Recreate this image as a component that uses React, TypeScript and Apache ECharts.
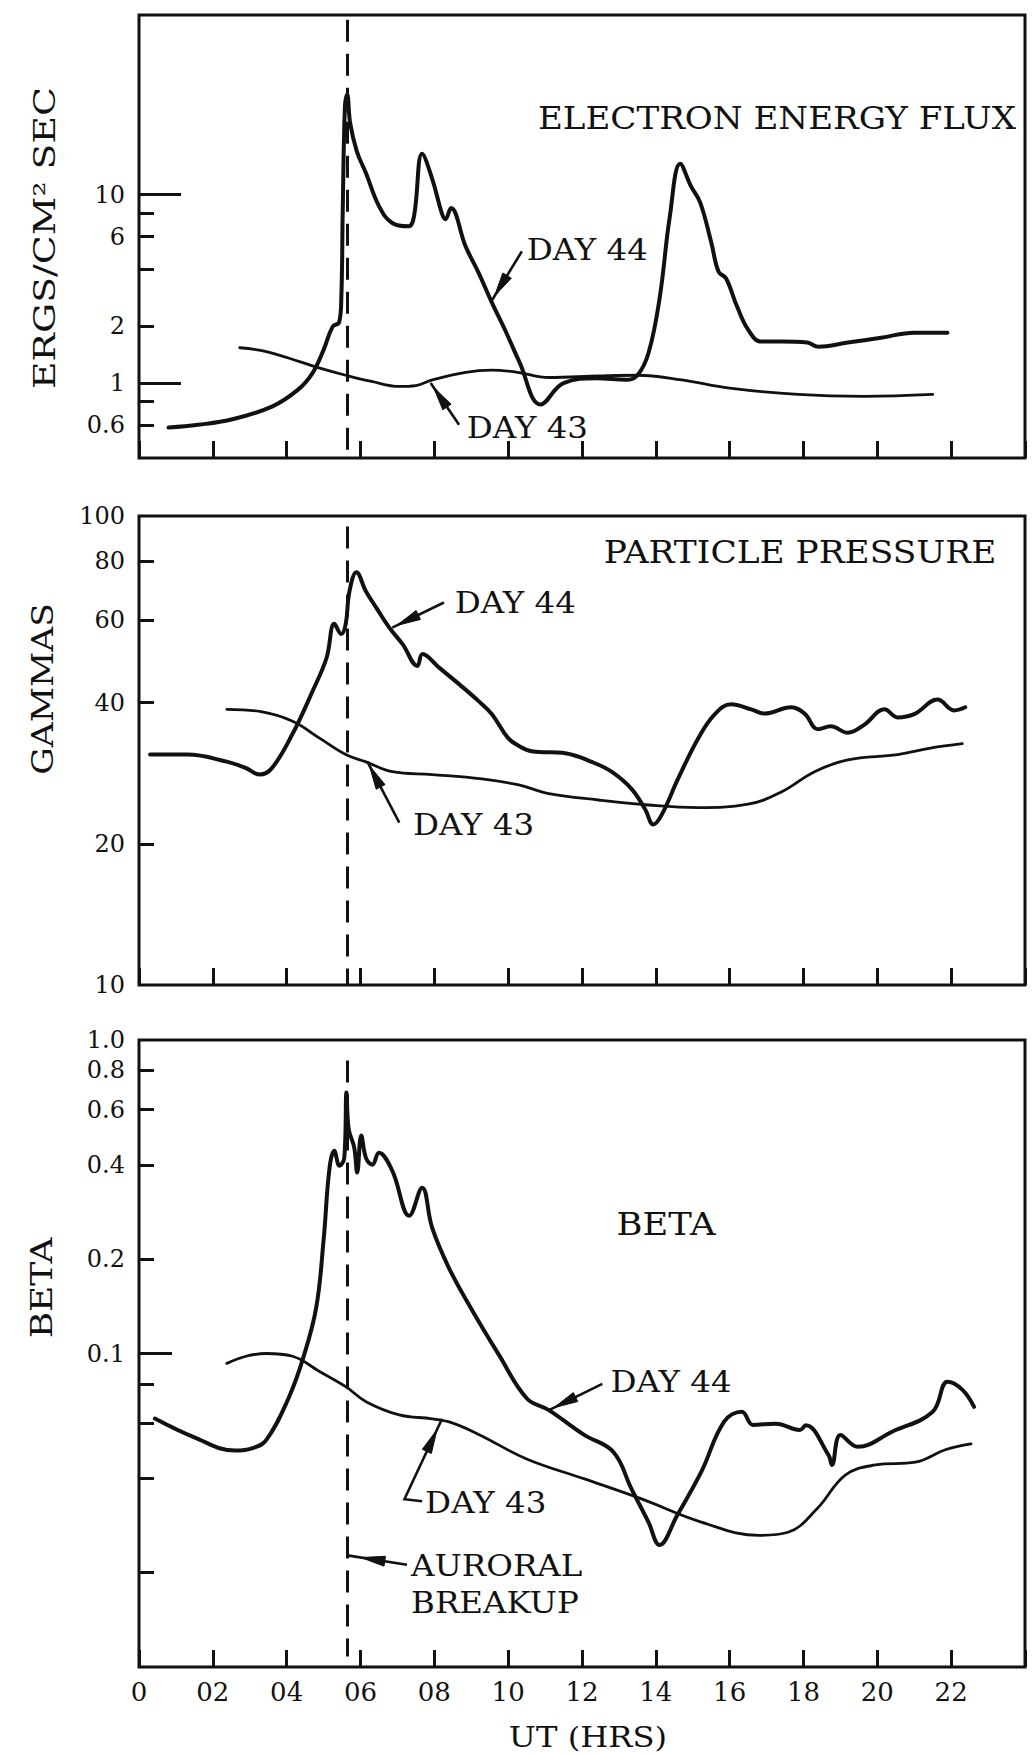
import React, { useEffect, useRef } from 'react';
import * as echarts from 'echarts';

// ---------- data (UT hours, value) ----------
const fluxDay44: [number, number][] = [
  [0.8, 0.58], [1.6, 0.6], [2.5, 0.64], [3.6, 0.75], [4.3, 0.92], [4.7, 1.13], [5.0, 1.5],
  [5.25, 2.0], [5.42, 2.1], [5.48, 2.8], [5.52, 8.5], [5.58, 30], [5.64, 34], [5.72, 24],
  [5.9, 17], [6.15, 13], [6.5, 8.7], [6.85, 7.1], [7.3, 6.8], [7.45, 7.7], [7.67, 16.5],
  [7.95, 12], [8.2, 8.0], [8.3, 7.4], [8.45, 8.5], [8.85, 5.3], [9.2, 3.85], [9.55, 2.7],
  [9.95, 1.85], [10.3, 1.3], [10.88, 0.77], [11.5, 1.0], [12.4, 1.06], [13.2, 1.04],
  [13.5, 1.1], [13.8, 1.44], [14.1, 2.8], [14.38, 7.7], [14.66, 14.6], [14.95, 11.1],
  [15.2, 9.1], [15.5, 5.6], [15.7, 3.9], [15.9, 3.6], [16.2, 2.55], [16.5, 1.92],
  [16.85, 1.66], [17.4, 1.66], [18.1, 1.64], [18.4, 1.56], [19.2, 1.64], [20.1, 1.74],
  [21.0, 1.85], [21.9, 1.85],
];
const fluxDay43: [number, number][] = [
  [2.73, 1.54], [3.45, 1.47], [4.35, 1.3], [4.9, 1.2], [5.6, 1.1], [6.3, 1.02], [7.05, 0.96],
  [7.5, 0.97], [7.95, 1.04], [8.85, 1.14], [9.55, 1.17], [10.25, 1.14], [11.1, 1.07],
  [12.45, 1.09], [13.5, 1.1], [14.7, 1.04], [16.0, 0.94], [17.85, 0.87], [19.65, 0.85],
  [21.5, 0.87],
];
const pressureDay44: [number, number][] = [
  [0.3, 31], [1.3, 31], [2.4, 29.9], [2.9, 29], [3.27, 28.1], [3.6, 29], [4.15, 34.2],
  [4.7, 42.3], [5.08, 49.8], [5.29, 58.9], [5.48, 56], [5.6, 58.9], [5.7, 69], [5.89, 75.9],
  [6.15, 69], [6.43, 63.7], [6.78, 57.8], [7.14, 53.3], [7.54, 47.9], [7.68, 50.8],
  [8.13, 47.5], [8.67, 43.8], [9.2, 40.3], [9.56, 37.8], [10.0, 33.6], [10.3, 32.3],
  [10.64, 31.5], [11.55, 31.2], [12.26, 29.9], [12.8, 28.5], [13.34, 26.2], [13.71, 23.7],
  [13.93, 22.0], [14.15, 23.0], [14.6, 27.5], [15.15, 33.6], [15.6, 37.8], [16.04, 39.7],
  [16.58, 38.7], [16.95, 37.9], [17.66, 39.1], [18.03, 37.9], [18.39, 35.1], [18.74, 35.6],
  [19.2, 34.5], [19.65, 35.9], [20.19, 38.7], [20.55, 37.2], [21.0, 37.8], [21.63, 40.6],
  [22.08, 38.5], [22.38, 39.1],
];
const pressureDay43: [number, number][] = [
  [2.38, 38.7], [3.27, 38.3], [4.16, 36.5], [4.89, 33.6], [5.6, 31.0], [6.15, 29.9],
  [6.86, 28.5], [7.94, 28.1], [9.29, 27.5], [10.29, 26.7], [11.1, 25.6], [12.45, 24.8],
  [13.8, 24.2], [15.15, 23.9], [16.5, 24.3], [17.4, 25.8], [18.3, 28.5], [19.2, 30.2],
  [20.55, 31], [21.44, 32.0], [22.3, 32.7],
];
const betaDay44: [number, number][] = [
  [0.43, 0.062], [1.5, 0.054], [2.6, 0.049], [3.1, 0.05], [3.45, 0.053], [4.05, 0.072],
  [4.45, 0.097], [4.8, 0.14], [5.0, 0.23], [5.16, 0.39], [5.29, 0.443], [5.43, 0.397],
  [5.56, 0.42], [5.62, 0.68], [5.68, 0.52], [5.83, 0.454], [5.91, 0.378], [6.02, 0.496],
  [6.15, 0.42], [6.32, 0.4], [6.5, 0.437], [6.86, 0.383], [7.32, 0.275], [7.67, 0.338],
  [7.94, 0.252], [8.4, 0.187], [9.0, 0.139], [9.75, 0.099], [10.5, 0.072], [11.1, 0.066],
  [12.06, 0.055], [12.85, 0.0485], [13.34, 0.037], [13.8, 0.029], [14.1, 0.0245],
  [14.58, 0.0305], [15.23, 0.0419], [15.85, 0.0606], [16.33, 0.0652], [16.63, 0.0592],
  [17.25, 0.0597], [17.9, 0.057], [18.06, 0.059], [18.68, 0.0474], [18.77, 0.0441],
  [19.0, 0.055], [19.47, 0.0504], [20.4, 0.0563], [21.5, 0.0652], [21.9, 0.0813],
  [22.3, 0.0767], [22.62, 0.0676],
];
const betaDay43: [number, number][] = [
  [2.38, 0.093], [2.9, 0.098], [3.44, 0.1], [4.16, 0.098], [4.89, 0.0876], [5.6, 0.0784],
  [6.15, 0.0702], [7.05, 0.0637], [7.94, 0.0619], [8.5, 0.06], [9.23, 0.055], [10.5, 0.0461],
  [12.07, 0.0398], [13.63, 0.0343], [15.23, 0.029], [16.8, 0.0263], [17.58, 0.0269],
  [18.36, 0.0319], [19.14, 0.041], [19.95, 0.0441], [21.03, 0.045], [21.84, 0.0493],
  [22.54, 0.0515],
];

// ---------- tick values ----------
const fluxLabels = [0.6, 1, 2, 6, 10];
const fluxShortTicks = [0.6, 0.8, 2, 4, 6, 8];
const fluxLongTicks = [1, 10];
const pressureLabels = [10, 20, 40, 60, 80, 100];
const pressureShortTicks = [20, 40, 60, 80];
const betaLabels = [0.1, 0.2, 0.4, 0.6, 0.8, 1];
const betaShortTicks = [0.02, 0.04, 0.06, 0.08, 0.2, 0.4, 0.6, 0.8];
const betaLongTicks = [0.1];
const breakupHour = 5.64;

// ---------- annotations (data coordinates) ----------
type Note = { labels: [string, number, number][]; path: [number, number][]; tipOffset?: number };
const fluxNotes: Note[] = [
  { labels: [['DAY 44', 10.5, 5.1]], path: [[10.37, 5.0], [9.56, 2.75]] },
  { labels: [['DAY 43', 8.88, 0.58]], path: [[8.67, 0.6], [7.9, 1.0]] },
];
const pressureNotes: Note[] = [
  { labels: [['DAY 44', 8.55, 65.4]], path: [[8.26, 65.4], [6.86, 57.8]] },
  { labels: [['DAY 43', 7.42, 22.0]], path: [[7.05, 22.2], [6.18, 30.0]] },
];
const betaNotes: Note[] = [
  { labels: [['DAY 44', 12.77, 0.0813]], path: [[12.55, 0.08], [11.12, 0.0661]] },
  { labels: [['DAY 43', 7.75, 0.0335]], path: [[7.67, 0.0338], [7.19, 0.0343], [8.21, 0.0619]], tipOffset: 12 },
  { labels: [['AURORAL', 7.37, 0.0211], ['BREAKUP', 7.37, 0.016]], path: [[7.26, 0.0212], [breakupHour, 0.0227]], tipOffset: 14 },
];

const FONT = "'DejaVu Serif', 'Liberation Serif', serif";
const INK = '#111111';

const grids = [
  { left: 139, top: 15, width: 886, height: 443 },
  { left: 139, top: 516, width: 886, height: 469 },
  { left: 139, top: 1040, width: 886, height: 627 },
];

function yAxes(gridIndex: number, min: number, max: number, labels: number[], shortTicks: number[],
  longTicks: number[], longLen: number, fmt: (v: number) => string) {
  return [
    {
      type: 'log', gridIndex, min, max, logBase: 10, position: 'left', offset: 0,
      axisLine: { show: false }, splitLine: { show: false }, minorTick: { show: false },
      axisTick: { show: true, inside: true, length: 15, customValues: shortTicks, lineStyle: { color: INK, width: 3 } },
      axisLabel: { show: true, customValues: labels, formatter: fmt, fontFamily: FONT, fontSize: 24, color: INK, margin: 14 },
    },
    {
      type: 'log', gridIndex, min, max, logBase: 10, position: 'left', offset: 0,
      axisLine: { show: false }, splitLine: { show: false }, minorTick: { show: false },
      axisTick: { show: longTicks.length > 0, inside: true, length: longLen, customValues: longTicks.length ? longTicks : [min], lineStyle: { color: INK, width: 3 } },
      axisLabel: { show: false },
    },
  ];
}

const fmtHour = (v: number) => (v === 0 ? '0' : v >= 24 ? '' : v < 10 ? '0' + v : String(v));

function lineSeries(i: number, data: [number, number][], width: number, dash?: [number, number]) {
  const s: any = {
    type: 'line', xAxisIndex: i, yAxisIndex: 2 * i, data, smooth: 0.4,
    showSymbol: false, symbol: 'none', lineStyle: { color: INK, width, cap: 'round', join: 'round' }, z: 3,
  };
  if (dash) {
    s.markLine = {
      silent: true, symbol: ['none', 'none'], label: { show: false },
      lineStyle: { color: INK, width: 3, type: [22, 12] },
      data: [[{ coord: [breakupHour, dash[0]] }, { coord: [breakupHour, dash[1]] }]],
    };
  }
  return s;
}

function noteSeries(i: number, notes: Note[]) {
  return {
    type: 'custom', xAxisIndex: i, yAxisIndex: 2 * i, clip: false, silent: true, z: 6,
    data: notes.map((n) => n.path[n.path.length - 1]),
    renderItem: (params: any, api: any) => {
      const note = notes[params.dataIndex];
      const pts = note.path.map((p) => api.coord(p));
      const children: any[] = [];
      children.push({ type: 'polyline', shape: { points: pts }, style: { stroke: INK, lineWidth: 2.6, fill: 'none' } });
      const tip = pts[pts.length - 1];
      const prev = pts[pts.length - 2];
      const dx = prev[0] - tip[0];
      const dy = prev[1] - tip[1];
      const len = Math.hypot(dx, dy) || 1;
      const ux = dx / len;
      const uy = dy / len;
      const off = note.tipOffset ?? 5;
      const L = 24;
      const w = 5;
      const a = [tip[0] + ux * off, tip[1] + uy * off];
      const b = [tip[0] + ux * (off + L), tip[1] + uy * (off + L)];
      children.push({
        type: 'polygon',
        shape: { points: [a, [b[0] - uy * w, b[1] + ux * w], [b[0] + uy * w, b[1] - ux * w]] },
        style: { fill: INK, stroke: INK, lineWidth: 1 },
      });
      note.labels.forEach(([t, x, y]) => {
        const p = api.coord([x, y]);
        children.push({
          type: 'text', x: p[0], y: p[1], scaleX: 1.12,
          style: { text: t, fontFamily: FONT, fontSize: 29, fill: INK, align: 'left', verticalAlign: 'middle', textAlign: 'left', textVerticalAlign: 'middle' },
        });
      });
      return { type: 'group', children };
    },
  };
}

function gtext(text: string, x: number, y: number, size: number, sx: number, rotation = 0) {
  return {
    type: 'text', x, y, rotation, scaleX: sx, silent: true,
    style: { text, fontFamily: FONT, fontSize: size, fill: INK, align: 'center', verticalAlign: 'middle', textAlign: 'center', textVerticalAlign: 'middle' },
  };
}

export default function App() {
  const ref = useRef<HTMLDivElement>(null);
  useEffect(() => {
    if (!ref.current) return;
    const chart = echarts.init(ref.current, undefined, { renderer: 'svg' });
    const option: any = {
      animation: false,
      backgroundColor: '#ffffff',
      grid: grids.map((g) => ({ ...g, show: true, borderColor: INK, borderWidth: 3, backgroundColor: 'transparent' })),
      xAxis: grids.map((_, i) => ({
        type: 'value', gridIndex: i, min: 0, max: 24, interval: 2,
        axisLine: { show: false }, splitLine: { show: false },
        axisTick: { show: true, inside: true, length: 17, lineStyle: { color: INK, width: 3 } },
        axisLabel: { show: i === 2, formatter: fmtHour, fontFamily: FONT, fontSize: 26, color: INK, margin: 12 },
      })),
      yAxis: [
        ...yAxes(0, 0.4, 90, fluxLabels, fluxShortTicks, fluxLongTicks, 42, (v) => String(v)),
        ...yAxes(1, 10, 100, pressureLabels, pressureShortTicks, [], 15, (v) => String(v)),
        ...yAxes(2, 0.01, 1, betaLabels, betaShortTicks, betaLongTicks, 33, (v) => (v === 1 ? '1.0' : String(v))),
      ],
      series: [
        lineSeries(0, fluxDay44, 4, [85, 0.4]),
        lineSeries(0, fluxDay43, 2.8),
        lineSeries(1, pressureDay44, 4, [95, 10]),
        lineSeries(1, pressureDay43, 2.8),
        lineSeries(2, betaDay44, 4, [0.86, 0.0108]),
        lineSeries(2, betaDay43, 2.8),
        noteSeries(0, fluxNotes),
        noteSeries(1, pressureNotes),
        noteSeries(2, betaNotes),
      ],
      graphic: [
        gtext('ELECTRON ENERGY FLUX', 777, 119, 31, 1.1),
        gtext('PARTICLE PRESSURE', 800, 553, 31, 1.11),
        gtext('BETA', 666, 1224, 31, 1.14),
        gtext('ERGS/CM² SEC', 44, 238, 30, 1.26, Math.PI / 2),
        gtext('GAMMAS', 43, 689, 30, 1.15, Math.PI / 2),
        gtext('BETA', 42, 1288, 30, 1.2, Math.PI / 2),
        gtext('UT (HRS)', 588, 1737, 28, 1.15),
      ],
    };
    chart.setOption(option);
    return () => chart.dispose();
  }, []);
  return <div ref={ref} style={{ position: 'absolute', left: 0, top: 0, width: 1034, height: 1755, background: '#fff' }} />;
}
